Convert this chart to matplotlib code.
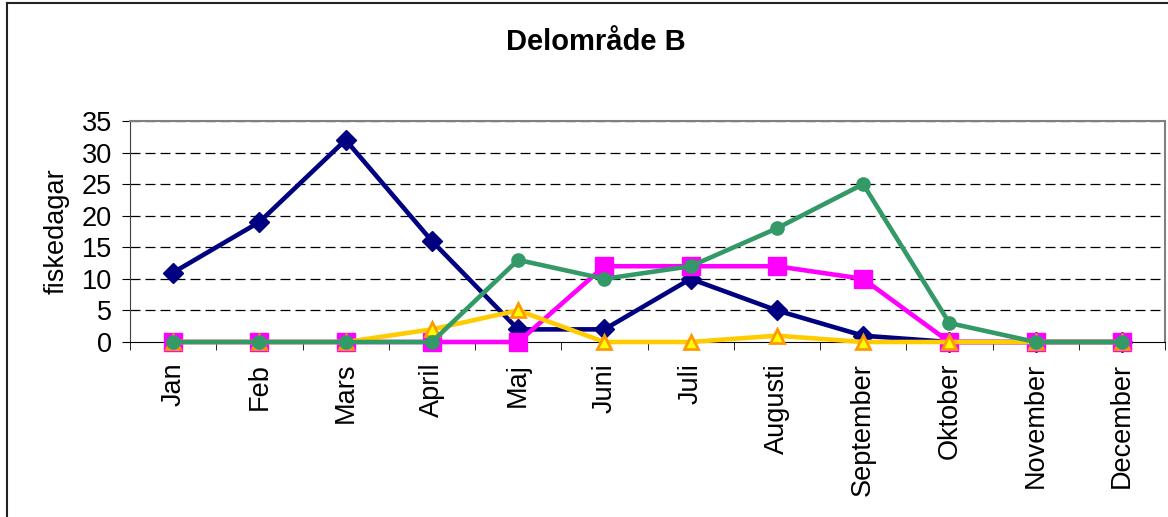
import matplotlib.pyplot as plt
from matplotlib.lines import Line2D

plt.rcParams['font.family'] = ['Liberation Sans', 'DejaVu Sans']

months = ["Jan", "Feb", "Mars", "April", "Maj", "Juni", "Juli", "Augusti",
          "September", "Oktober", "November", "December"]
navy_vals = [11, 19, 32, 16, 2, 2, 10, 5, 1, 0, 0, 0]
magenta_vals = [0, 0, 0, 0, 0, 12, 12, 12, 10, 0, 0, 0]
yellow_vals = [0, 0, 0, 2, 5, 0, 0, 1, 0, 0, 0, 0]
green_vals = [0, 0, 0, 0, 13, 10, 12, 18, 25, 3, 0, 0]

fig = plt.figure(figsize=(11.68, 5.17), dpi=100)
ax = fig.add_axes([130 / 1168, 1 - 342 / 517, 1035 / 1168, 221 / 517])

x = list(range(len(months)))

# grid first so the lines sit on top
for y in range(5, 36, 5):
    ax.axhline(y, color='black', lw=0.9, linestyle=(0, (8, 4)), zorder=1)

ax.plot(x, navy_vals, color='#000080', lw=3.3, marker='D', markersize=10,
        clip_on=False, zorder=3)
ax.plot(x, magenta_vals, color='#FF00FF', lw=3.3, marker='s', markersize=13,
        clip_on=False, zorder=4)
ax.plot(x, yellow_vals, color='#FFCC00', lw=3.3, marker='^', markersize=10,
        markerfacecolor='#FFFF00', markeredgecolor='#FF9900', markeredgewidth=2,
        clip_on=False, zorder=5)
ax.plot(x, green_vals, color='#339966', lw=3.3, marker='o', markersize=9.5,
        clip_on=False, zorder=6)

ax.set_xlim(-0.5, len(months) - 0.5)
ax.set_ylim(0, 35)
ax.set_yticks(range(0, 36, 5))
ax.set_xticks(x)
ax.set_xticklabels(months, rotation=90, va='top', ha='center')
ax.set_xticks([i - 0.5 for i in range(len(months) + 1)], minor=True)

ax.tick_params(axis='x', which='major', length=0, pad=15, labelsize=19.5)
ax.tick_params(axis='x', which='minor', length=6, direction='out', color='black')
ax.tick_params(axis='y', length=6, direction='out', pad=7, labelsize=19.5)

ax.set_ylabel('fiskedagar', fontsize=19.5, labelpad=9)

ax.spines['top'].set_color('#808080')
ax.spines['right'].set_color('#808080')
ax.spines['top'].set_linewidth(1.5)
ax.spines['right'].set_linewidth(1.5)
ax.spines['left'].set_color('#404040')
ax.spines['bottom'].set_color('black')

fig.text(596 / 1168, 1 - 42 / 517, 'Delområde B', fontsize=21, fontweight='bold',
         ha='center', va='center')

# chart frame: only left and top edges show
fig.lines.append(Line2D([7 / 1168, 7 / 1168], [0, 1 - 2.5 / 517],
                        transform=fig.transFigure, color='#222222', lw=1.5))
fig.lines.append(Line2D([7 / 1168, 1], [1 - 2.5 / 517, 1 - 2.5 / 517],
                        transform=fig.transFigure, color='#222222', lw=1.5))

plt.savefig('out.png', dpi=100)
